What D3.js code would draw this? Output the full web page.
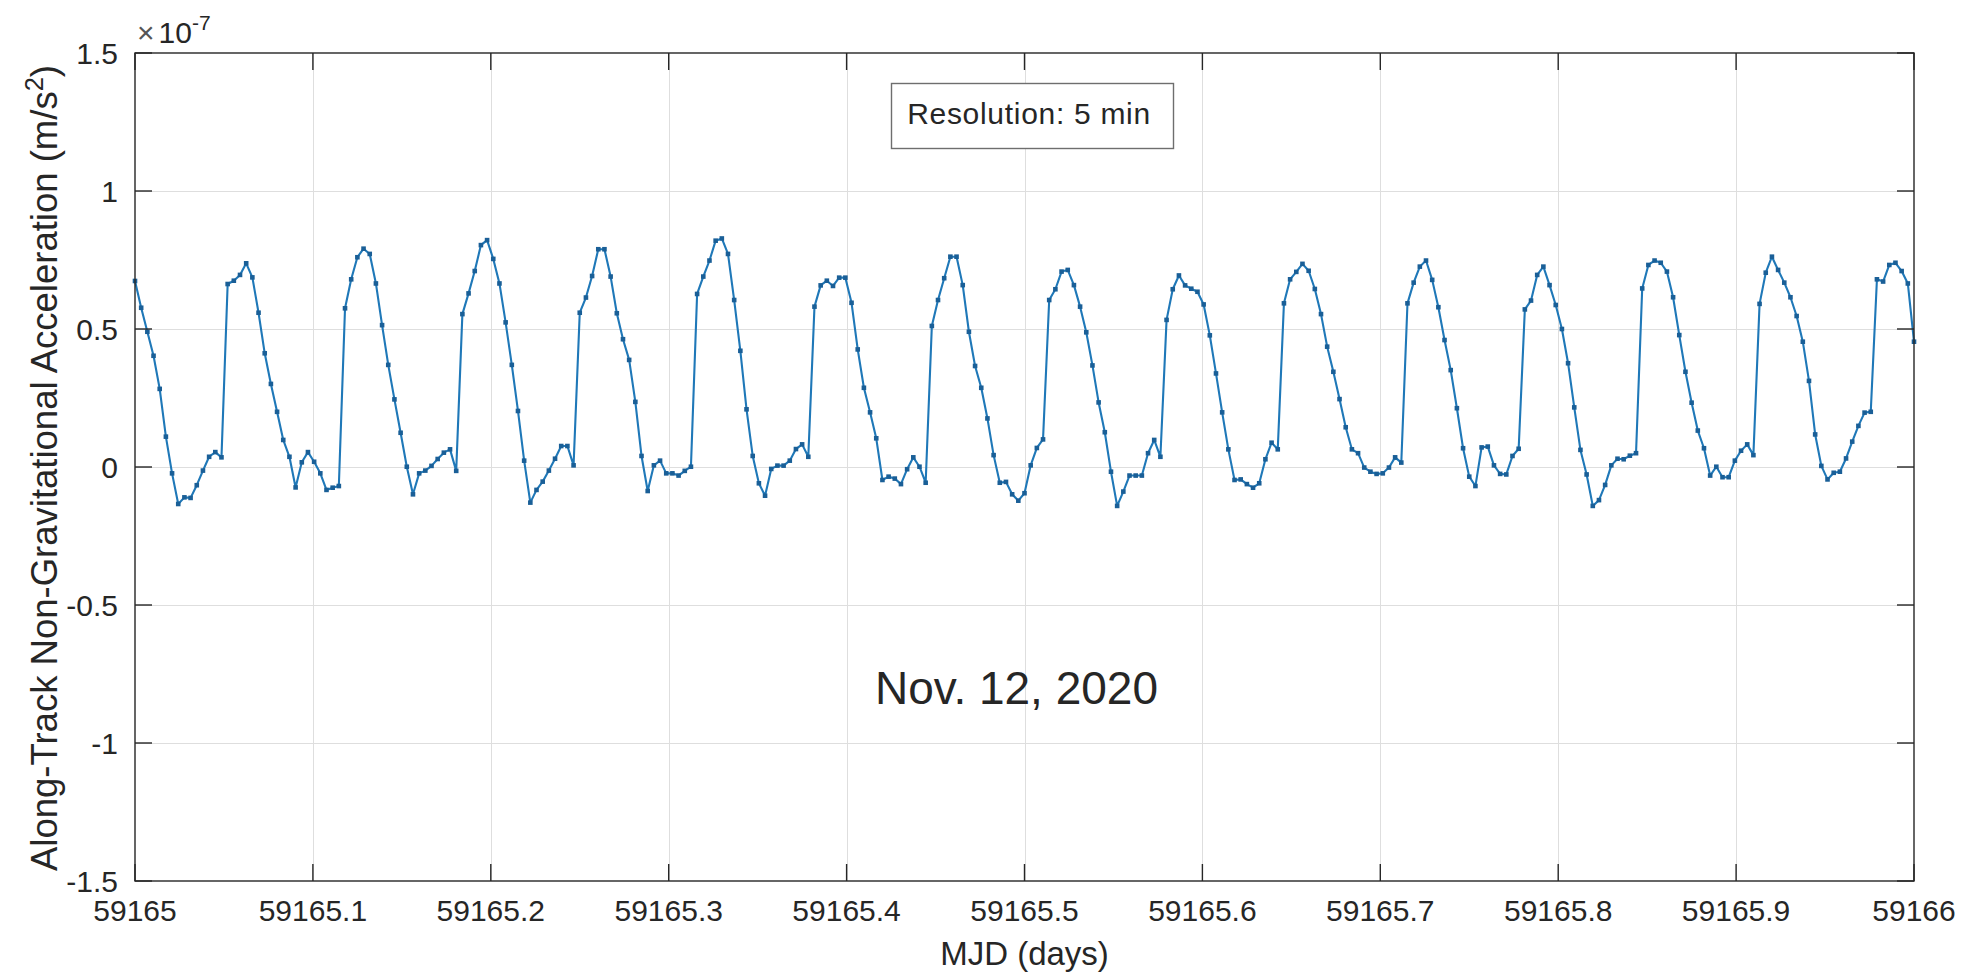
<!DOCTYPE html>
<html>
<head>
<meta charset="utf-8">
<script src="https://cdn.jsdelivr.net/npm/d3@7/dist/d3.min.js"></script>
<style>
  html, body { margin: 0; padding: 0; background: #ffffff; }
  svg { display: block; }
  text { font-family: "Liberation Sans", Arial, Helvetica, sans-serif; fill: #262626; }
</style>
</head>
<body>
<svg id="chart" width="1988" height="978"></svg>
<script>
// Along-track non-gravitational acceleration, 5-minute samples over one day (units of 1e-7 m/s^2)
const startMJD = 59165;
const stepMinutes = 5;
const accel = [
  0.674, 0.577, 0.49, 0.403, 0.283, 0.11, -0.023, -0.134, -0.11, -0.112,
  -0.066, -0.013, 0.037, 0.054, 0.035, 0.663, 0.675, 0.696, 0.738, 0.687,
  0.559, 0.412, 0.301, 0.2, 0.098, 0.037, -0.074, 0.017, 0.054, 0.019,
  -0.023, -0.083, -0.075, -0.069, 0.575, 0.68, 0.76, 0.791, 0.772, 0.665,
  0.514, 0.37, 0.245, 0.124, 0.001, -0.099, -0.023, -0.013, 0.004, 0.029,
  0.052, 0.064, -0.014, 0.554, 0.629, 0.71, 0.804, 0.822, 0.754,
  0.665, 0.524, 0.37, 0.203, 0.023, -0.129, -0.083, -0.053, -0.013, 0.03,
  0.076, 0.076, 0.006, 0.559, 0.614, 0.692, 0.789, 0.789, 0.69, 0.557,
  0.463, 0.388, 0.236, 0.04, -0.087, 0.006, 0.023, -0.023, -0.023,
  -0.031, -0.014, 0.001, 0.627, 0.69, 0.748, 0.82, 0.828, 0.772, 0.605,
  0.421, 0.209, 0.04, -0.059, -0.104, -0.007, 0.005, 0.005, 0.023, 0.065,
  0.082, 0.037, 0.581, 0.658, 0.675, 0.656, 0.686, 0.686, 0.595,
  0.426, 0.287, 0.198, 0.104, -0.047, -0.035, -0.042, -0.062, -0.008, 0.035,
  0.001, -0.057, 0.511, 0.605, 0.684, 0.762, 0.762, 0.659, 0.49, 0.366,
  0.287, 0.176, 0.043, -0.057, -0.054, -0.099, -0.122, -0.095,
  0.006, 0.069, 0.1, 0.605, 0.644, 0.708, 0.714, 0.659, 0.581, 0.488,
  0.368, 0.234, 0.126, -0.017, -0.141, -0.089, -0.031, -0.031, -0.031, 0.05,
  0.098, 0.037, 0.533, 0.644, 0.694, 0.658, 0.646, 0.635, 0.589,
  0.477, 0.339, 0.198, 0.064, -0.047, -0.045, -0.062, -0.075, -0.059, 0.028,
  0.088, 0.064, 0.593, 0.68, 0.707, 0.736, 0.711, 0.645, 0.554, 0.436,
  0.345, 0.246, 0.144, 0.064, 0.05, -0.002, -0.017, -0.025, -0.023,
  -0.002, 0.035, 0.016, 0.593, 0.668, 0.726, 0.748, 0.678, 0.579, 0.46,
  0.351, 0.213, 0.068, -0.035, -0.069, 0.071, 0.074, 0.006, -0.025, -0.027,
  0.04, 0.066, 0.571, 0.603, 0.696, 0.726, 0.659, 0.587, 0.5,
  0.376, 0.216, 0.062, -0.027, -0.141, -0.12, -0.065, 0.006, 0.03, 0.028,
  0.041, 0.05, 0.647, 0.732, 0.748, 0.74, 0.708, 0.615, 0.478, 0.345,
  0.233, 0.132, 0.068, -0.031, 0.001, -0.037, -0.037, 0.023,
  0.059, 0.082, 0.043, 0.591, 0.704, 0.762, 0.714, 0.668, 0.615, 0.547,
  0.454, 0.312, 0.118, 0.004, -0.045, -0.021, -0.017, 0.031, 0.092, 0.149,
  0.197, 0.2, 0.68, 0.672, 0.732, 0.74, 0.71, 0.665, 0.454
];

const xTickValues = [59165, 59165.1, 59165.2, 59165.3, 59165.4, 59165.5, 59165.6, 59165.7, 59165.8, 59165.9, 59166];
const xTickLabels = ["59165", "59165.1", "59165.2", "59165.3", "59165.4", "59165.5", "59165.6", "59165.7", "59165.8", "59165.9", "59166"];
const yTickValues = [-1.5, -1, -0.5, 0, 0.5, 1, 1.5];
const yTickLabels = ["-1.5", "-1", "-0.5", "0", "0.5", "1", "1.5"];

const xLabel = "MJD (days)";
const yLabel = "Along-Track Non-Gravitational Acceleration (m/s";
const noteText = "Resolution: 5 min";
const dateText = "Nov. 12, 2020";

const samples = accel.map((v, i) => ({ t: startMJD + i * stepMinutes / 1440, v }));

const plot = { left: 135, right: 1914, top: 53, bottom: 881 };
const svg = d3.select("#chart");

const x = d3.scaleLinear().domain([59165, 59166]).range([plot.left, plot.right]);
const y = d3.scaleLinear().domain([-1.5, 1.5]).range([plot.bottom, plot.top]);

const axisColor = "#262626";
const tickLen = 17;

// grid
const grid = svg.append("g").attr("stroke", "#dedede").attr("stroke-width", 1);
grid.selectAll("line.gx").data(xTickValues.slice(1, -1)).join("line")
  .attr("x1", d => Math.round(x(d)) + 0.5).attr("x2", d => Math.round(x(d)) + 0.5)
  .attr("y1", plot.top).attr("y2", plot.bottom);
grid.selectAll("line.gy").data(yTickValues.slice(1, -1)).join("line")
  .attr("y1", d => Math.round(y(d)) + 0.5).attr("y2", d => Math.round(y(d)) + 0.5)
  .attr("x1", plot.left).attr("x2", plot.right);

// data line with sample markers
const line = d3.line().x(d => x(d.t)).y(d => y(d.v));
svg.append("path").datum(samples)
  .attr("d", line)
  .attr("fill", "none")
  .attr("stroke", "#1f78b8")
  .attr("stroke-width", 2.1)
  .attr("stroke-linejoin", "round");
svg.append("g").selectAll("rect").data(samples).join("rect")
  .attr("x", d => x(d.t) - 2.3).attr("y", d => y(d.v) - 2.3)
  .attr("width", 4.6).attr("height", 4.6)
  .attr("fill", "#1a5f97");

// axes box and inward ticks
const ax = svg.append("g").attr("stroke", axisColor).attr("stroke-width", 1.4);
ax.append("rect")
  .attr("x", plot.left).attr("y", plot.top)
  .attr("width", plot.right - plot.left).attr("height", plot.bottom - plot.top)
  .attr("fill", "none");
xTickValues.forEach(d => {
  ax.append("line").attr("x1", x(d)).attr("x2", x(d)).attr("y1", plot.bottom).attr("y2", plot.bottom - tickLen);
  ax.append("line").attr("x1", x(d)).attr("x2", x(d)).attr("y1", plot.top).attr("y2", plot.top + tickLen);
});
yTickValues.forEach(d => {
  ax.append("line").attr("y1", y(d)).attr("y2", y(d)).attr("x1", plot.left).attr("x2", plot.left + tickLen);
  ax.append("line").attr("y1", y(d)).attr("y2", y(d)).attr("x1", plot.right).attr("x2", plot.right - tickLen);
});

// tick labels
svg.append("g").selectAll("text").data(xTickValues).join("text")
  .attr("x", d => x(d)).attr("y", plot.bottom + 40)
  .attr("text-anchor", "middle").attr("font-size", 30)
  .text((d, i) => xTickLabels[i]);
svg.append("g").selectAll("text").data(yTickValues).join("text")
  .attr("x", plot.left - 17).attr("y", d => y(d) + 10.5)
  .attr("text-anchor", "end").attr("font-size", 30)
  .text((d, i) => yTickLabels[i]);

// exponent
const expo = svg.append("text").attr("x", plot.left + 2).attr("y", 43).attr("font-size", 30);
expo.append("tspan").text("\u00d7").attr("fill", "#555");
expo.append("tspan").text("10").attr("dx", 4);
expo.append("tspan").text("-7").attr("font-size", 21).attr("dy", -13);

// axis labels
svg.append("text")
  .attr("x", (plot.left + plot.right) / 2).attr("y", 965)
  .attr("text-anchor", "middle").attr("font-size", 33)
  .text(xLabel);
const yl = svg.append("text")
  .attr("transform", `translate(57,${(plot.top + plot.bottom) / 2 + 1}) rotate(-90)`)
  .attr("text-anchor", "middle").attr("font-size", 36.5);
yl.append("tspan").text(yLabel);
yl.append("tspan").text("2").attr("font-size", 25.5).attr("dy", -14);
yl.append("tspan").text(")").attr("dy", 14);

// annotation box
const note = svg.append("g");
note.append("rect").attr("x", 891.5).attr("y", 83.5).attr("width", 282).attr("height", 65)
  .attr("fill", "#ffffff").attr("stroke", "#6e6e6e").attr("stroke-width", 1.4);
note.append("text").attr("x", 1029).attr("y", 124).attr("text-anchor", "middle")
  .attr("font-size", 30).attr("letter-spacing", 0.7).text(noteText);

// date label
svg.append("text").attr("x", 875).attr("y", 704).attr("font-size", 46).attr("fill", "#000").text(dateText);
</script>
</body>
</html>
